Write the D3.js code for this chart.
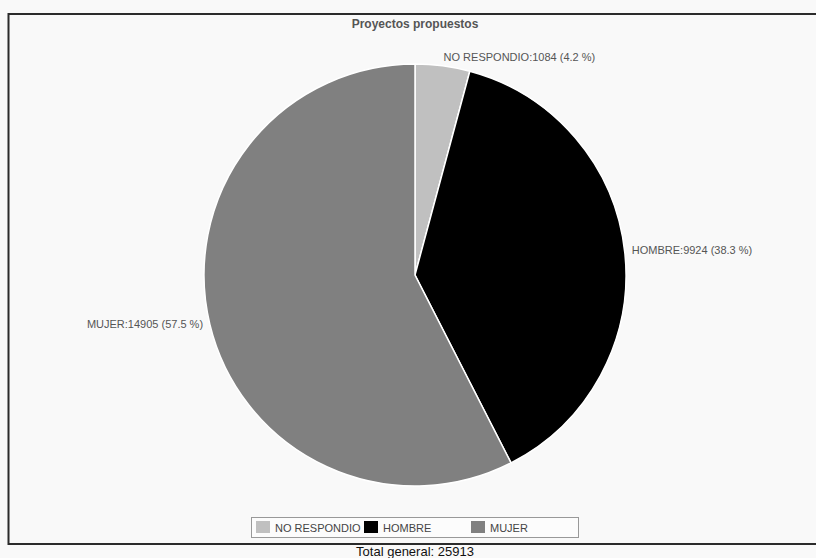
<!DOCTYPE html>
<html><head><meta charset="utf-8">
<script src="https://cdn.jsdelivr.net/npm/d3@7"></script>
<style>
html,body{margin:0;padding:0;background:#f9f9f9;overflow:hidden;}
svg{display:block;font-family:Arial,"Liberation Sans",sans-serif;}
</style></head>
<body><svg id="c" width="816" height="558"></svg>
<script>
const categories = ["NO RESPONDIO", "HOMBRE", "MUJER"];
const values = [1084, 9924, 14905];
const percents = ["4.2", "38.3", "57.5"];
const colors = ["#c0c0c0", "#000000", "#808080"];
const title = "Proyectos propuestos";
const total = 25913;

const svg = d3.select("#c");
svg.append("rect").attr("x",0).attr("y",0).attr("width",816).attr("height",558).attr("fill","#f9f9f9");
// frame
svg.append("rect").attr("x",8.5).attr("y",14).attr("width",820).attr("height",530)
  .attr("fill","#f9f9f9").attr("stroke","#2b2b2b").attr("stroke-width",2);

svg.append("text").attr("x",415).attr("y",28).attr("text-anchor","middle")
  .attr("font-size",12).attr("font-weight","bold").attr("fill","#555").text(title);

const cx = 415, cy = 275, r = 211;
const data = categories.map((c,i)=>({c, v:values[i], p:percents[i], col:colors[i]}));
const pie = d3.pie().value(d=>d.v).sort(null);
const arcs = pie(data);
const arc = d3.arc().innerRadius(0).outerRadius(r);
const g = svg.append("g").attr("transform",`translate(${cx},${cy})`);
g.selectAll("path").data(arcs).join("path")
  .attr("d",arc).attr("fill",d=>d.data.col).attr("stroke","#fff").attr("stroke-width",1.5);

const lr = 218;
g.selectAll("text.lab").data(arcs).join("text").attr("class","lab")
  .each(function(d){
    const a = (d.startAngle+d.endAngle)/2;
    const x = Math.sin(a)*lr, y = -Math.cos(a)*lr;
    d3.select(this).attr("x",x).attr("y",y).attr("dy","0.2em")
      .attr("text-anchor", x>=0 ? "start":"end");
  })
  .attr("font-size",11).attr("fill","#555")
  .text(d=>`${d.data.c}:${d.data.v} (${d.data.p} %)`);

// legend
const leg = svg.append("g");
leg.append("rect").attr("x",251.5).attr("y",517.5).attr("width",327).attr("height",20)
  .attr("fill","#fcfcfc").attr("stroke","#999").attr("stroke-width",1);
const lx = [256, 364, 471];
data.forEach((d,i)=>{
  leg.append("rect").attr("x",lx[i]).attr("y",521).attr("width",14).attr("height",12).attr("fill",d.col);
  leg.append("text").attr("x",lx[i]+19).attr("y",531.5).attr("font-size",11).attr("fill","#444").text(d.c);
});

svg.append("text").attr("x",415).attr("y",556).attr("text-anchor","middle")
  .attr("font-size",13).attr("fill","#111").text("Total general: " + total);
</script></body></html>
